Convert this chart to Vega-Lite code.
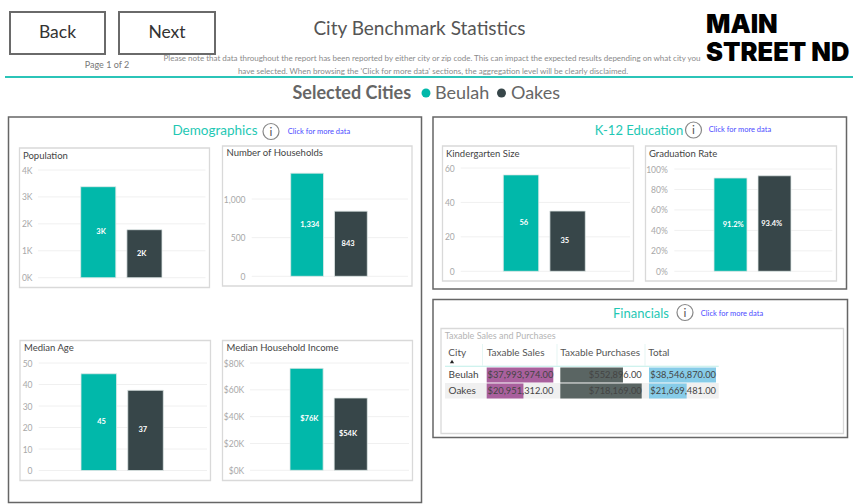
{
"$schema":"https://vega.github.io/schema/vega-lite/v6.json",
"width":853,"height":504,"padding":0,"autosize":{"type":"none"},"background":"white",
"config":{"view":{"stroke":null},"font":"Lato","text":{"font":"Lato"},"axis":{"grid":false,"ticks":false,"domain":false,"labelPadding":0,"labelColor":"#a8a8a8","labelFontSize":8.5,"labelFont":"Lato","title":null,"labelOverlap":false,"labelFlush":false}},
"resolve":{"scale":{"x":"independent","y":"independent"},"axis":{"x":"independent","y":"independent"}},
"layer":[
{"data":{"values":[{"t":"Demographics box"}]},"mark":{"type":"rect","fill":"white","stroke":"#666666","strokeWidth":1.5},"encoding":{"x":{"field":"t","type":"nominal","axis":null,"scale":{"range":[8.5,421.5]}},"y":{"field":"t","type":"nominal","axis":null,"scale":{"range":[117,502.5]}}}},
{"data":{"values":[{"t":"K-12 box"}]},"mark":{"type":"rect","fill":"white","stroke":"#666666","strokeWidth":1.5},"encoding":{"x":{"field":"t","type":"nominal","axis":null,"scale":{"range":[433,846.5]}},"y":{"field":"t","type":"nominal","axis":null,"scale":{"range":[117,289]}}}},
{"data":{"values":[{"t":"Financials box"}]},"mark":{"type":"rect","fill":"white","stroke":"#666666","strokeWidth":1.5},"encoding":{"x":{"field":"t","type":"nominal","axis":null,"scale":{"range":[433,847.5]}},"y":{"field":"t","type":"nominal","axis":null,"scale":{"range":[299.5,437.5]}}}},

{"data":{"values":[{"t":"Back"}]},"encoding":{"x":{"field":"t","type":"nominal","axis":null,"scale":{"range":[10,105]}},"y":{"field":"t","type":"nominal","axis":null,"scale":{"range":[12,54]}}},"layer":[{"mark":{"type":"rect","fill":"white","stroke":"#6a6a6a","strokeWidth":2}},{"mark":{"type":"text","fontSize":17.5,"fill":"#333333"},"encoding":{"text":{"field":"t"}}}]},
{"data":{"values":[{"t":"Next"}]},"encoding":{"x":{"field":"t","type":"nominal","axis":null,"scale":{"range":[119,215]}},"y":{"field":"t","type":"nominal","axis":null,"scale":{"range":[12,54]}}},"layer":[{"mark":{"type":"rect","fill":"white","stroke":"#6a6a6a","strokeWidth":2}},{"mark":{"type":"text","fontSize":17.5,"fill":"#333333"},"encoding":{"text":{"field":"t"}}}]},
{"data":{"values":[{"t":"Page 1 of 2"}]},"mark":{"type":"text","fontSize":9,"fill":"#777777"},"encoding":{"text":{"field":"t"},"x":{"field":"t","type":"nominal","axis":null,"scale":{"range":[106,108]}},"y":{"field":"t","type":"nominal","axis":null,"scale":{"range":[64,66]}}}},
{"data":{"values":[{"t":"City Benchmark Statistics"}]},"mark":{"type":"text","fontSize":19,"fill":"#555555"},"encoding":{"text":{"field":"t"},"x":{"field":"t","type":"nominal","axis":null,"scale":{"range":[418.5,420.5]}},"y":{"field":"t","type":"nominal","axis":null,"scale":{"range":[28,30]}}}},
{"data":{"values":[{"t":"Please note that data throughout the report has been reported by either city or zip code. This can impact the expected results depending on what city you"}]},"mark":{"type":"text","fontSize":8,"fill":"#8a8a8a"},"encoding":{"text":{"field":"t"},"x":{"field":"t","type":"nominal","axis":null,"scale":{"range":[431,433]}},"y":{"field":"t","type":"nominal","axis":null,"scale":{"range":[58,60]}}}},
{"data":{"values":[{"t":"have selected. When browsing the 'Click for more data' sections, the aggregation level will be clearly disclaimed."}]},"mark":{"type":"text","fontSize":8,"fill":"#8a8a8a"},"encoding":{"text":{"field":"t"},"x":{"field":"t","type":"nominal","axis":null,"scale":{"range":[432,434]}},"y":{"field":"t","type":"nominal","axis":null,"scale":{"range":[71,73]}}}},
{"data":{"values":[{"t":"MAIN"}]},"mark":{"type":"text","fontSize":25.5,"fontWeight":900,"font":"Inter","fill":"#000000","align":"left"},"encoding":{"text":{"field":"t"},"x":{"field":"t","type":"nominal","axis":null,"scale":{"range":[705,707]}},"y":{"field":"t","type":"nominal","axis":null,"scale":{"range":[24,26]}}}},
{"data":{"values":[{"t":"STREET ND"}]},"mark":{"type":"text","fontSize":25.5,"fontWeight":900,"font":"Inter","fill":"#000000","align":"left"},"encoding":{"text":{"field":"t"},"x":{"field":"t","type":"nominal","axis":null,"scale":{"range":[705,707]}},"y":{"field":"t","type":"nominal","axis":null,"scale":{"range":[52,54]}}}},
{"data":{"values":[{"t":"rule"}]},"mark":{"type":"rect","fill":"#2bc4b8"},"encoding":{"x":{"field":"t","type":"nominal","axis":null,"scale":{"range":[5,853]}},"y":{"field":"t","type":"nominal","axis":null,"scale":{"range":[76,78]}}}},
{"data":{"values":[{"t":"Selected Cities"}]},"mark":{"type":"text","fontSize":18,"fontWeight":"bold","fill":"#666666","align":"left"},"encoding":{"text":{"field":"t"},"x":{"field":"t","type":"nominal","axis":null,"scale":{"range":[291.5,293.5]}},"y":{"field":"t","type":"nominal","axis":null,"scale":{"range":[92.5,94.5]}}}},
{"data":{"values":[{"city":"Beulah"}]},"mark":{"type":"point","filled":true,"opacity":1,"size":80,"shape":"circle"},"encoding":{"y":{"field":"city","type":"nominal","axis":null,"scale":{"range":[92,94]}},"x":{"field":"city","type":"nominal","axis":null,"scale":{"range":[425,427]}},"color":{"field":"city","type":"nominal","legend":null,"scale":{"domain":["Beulah","Oakes"],"range":["#01b8aa","#374649"]}}}},
{"data":{"values":[{"city":"Oakes"}]},"mark":{"type":"point","filled":true,"opacity":1,"size":80,"shape":"circle"},"encoding":{"y":{"field":"city","type":"nominal","axis":null,"scale":{"range":[92,94]}},"x":{"field":"city","type":"nominal","axis":null,"scale":{"range":[500.5,502.5]}},"color":{"field":"city","type":"nominal","legend":null,"scale":{"domain":["Beulah","Oakes"],"range":["#01b8aa","#374649"]}}}},
{"data":{"values":[{"t":"Beulah"}]},"mark":{"type":"text","fontSize":18,"fill":"#666666","align":"left"},"encoding":{"text":{"field":"t"},"x":{"field":"t","type":"nominal","axis":null,"scale":{"range":[434,436]}},"y":{"field":"t","type":"nominal","axis":null,"scale":{"range":[92.5,94.5]}}}},
{"data":{"values":[{"t":"Oakes"}]},"mark":{"type":"text","fontSize":18,"fill":"#666666","align":"left"},"encoding":{"text":{"field":"t"},"x":{"field":"t","type":"nominal","axis":null,"scale":{"range":[510,512]}},"y":{"field":"t","type":"nominal","axis":null,"scale":{"range":[92.5,94.5]}}}},

{"data":{"values":[{"t":"Demographics"}]},"mark":{"type":"text","fontSize":13.5,"fill":"#1fc8b4"},"encoding":{"text":{"field":"t"},"x":{"field":"t","type":"nominal","axis":null,"scale":{"range":[214,216]}},"y":{"field":"t","type":"nominal","axis":null,"scale":{"range":[130,132]}}}},
{"data":{"values":[{"t":"i"}]},"encoding":{"x":{"field":"t","type":"nominal","axis":null,"scale":{"range":[270,272]}},"y":{"field":"t","type":"nominal","axis":null,"scale":{"range":[130.5,132.5]}}},"layer":[{"mark":{"type":"point","shape":"circle","size":256,"stroke":"#555555","strokeWidth":1.2,"fill":"white","filled":false}},{"mark":{"type":"text","fontSize":12,"fill":"#555555"},"encoding":{"text":{"field":"t"}}}]},
{"data":{"values":[{"t":"Click for more data"}]},"mark":{"type":"text","fontSize":7.5,"fill":"#4a4aff"},"encoding":{"text":{"field":"t"},"x":{"field":"t","type":"nominal","axis":null,"scale":{"range":[318,320]}},"y":{"field":"t","type":"nominal","axis":null,"scale":{"range":[131,133]}}}},
{"data":{"values":[{"t":"K-12 Education"}]},"mark":{"type":"text","fontSize":13,"fill":"#1fc8b4"},"encoding":{"text":{"field":"t"},"x":{"field":"t","type":"nominal","axis":null,"scale":{"range":[638,640]}},"y":{"field":"t","type":"nominal","axis":null,"scale":{"range":[130,132]}}}},
{"data":{"values":[{"t":"i"}]},"encoding":{"x":{"field":"t","type":"nominal","axis":null,"scale":{"range":[692.5,694.5]}},"y":{"field":"t","type":"nominal","axis":null,"scale":{"range":[129,131]}}},"layer":[{"mark":{"type":"point","shape":"circle","size":256,"stroke":"#555555","strokeWidth":1.2,"fill":"white","filled":false}},{"mark":{"type":"text","fontSize":12,"fill":"#555555"},"encoding":{"text":{"field":"t"}}}]},
{"data":{"values":[{"t":"Click for more data"}]},"mark":{"type":"text","fontSize":7.5,"fill":"#4a4aff"},"encoding":{"text":{"field":"t"},"x":{"field":"t","type":"nominal","axis":null,"scale":{"range":[739,741]}},"y":{"field":"t","type":"nominal","axis":null,"scale":{"range":[129,131]}}}},
{"data":{"values":[{"t":"Financials"}]},"mark":{"type":"text","fontSize":13,"fill":"#1fc8b4"},"encoding":{"text":{"field":"t"},"x":{"field":"t","type":"nominal","axis":null,"scale":{"range":[640,642]}},"y":{"field":"t","type":"nominal","axis":null,"scale":{"range":[312.5,314.5]}}}},
{"data":{"values":[{"t":"i"}]},"encoding":{"x":{"field":"t","type":"nominal","axis":null,"scale":{"range":[684,686]}},"y":{"field":"t","type":"nominal","axis":null,"scale":{"range":[311.5,313.5]}}},"layer":[{"mark":{"type":"point","shape":"circle","size":256,"stroke":"#555555","strokeWidth":1.2,"fill":"white","filled":false}},{"mark":{"type":"text","fontSize":12,"fill":"#555555"},"encoding":{"text":{"field":"t"}}}]},
{"data":{"values":[{"t":"Click for more data"}]},"mark":{"type":"text","fontSize":7.5,"fill":"#4a4aff"},"encoding":{"text":{"field":"t"},"x":{"field":"t","type":"nominal","axis":null,"scale":{"range":[731,733]}},"y":{"field":"t","type":"nominal","axis":null,"scale":{"range":[312.5,314.5]}}}},

{"data":{"values":[{"t":"Population"}]},"encoding":{"x":{"field":"t","type":"nominal","axis":null,"scale":{"range":[19.5,209.5]}},"y":{"field":"t","type":"nominal","axis":null,"scale":{"range":[148,287.5]}}},"mark":{"type":"rect","fill":"white","stroke":"#d9d9d9","strokeWidth":1.3}},
{"data":{"values":[{"t":"Population"}]},"mark":{"type":"text","fontSize":9.5,"fill":"#444444","align":"left"},"encoding":{"text":{"field":"t"},"x":{"field":"t","type":"nominal","axis":null,"scale":{"range":[22,24]}},"y":{"field":"t","type":"nominal","axis":null,"scale":{"range":[154.5,156.5]}}}},
{"data":{"values":[{"tick":0},{"tick":1000},{"tick":2000},{"tick":3000},{"tick":4000}]},"mark":{"type":"rule","stroke":"#f0f0f0"},"encoding":{"x":{"datum":0,"type":"quantitative","axis":null,"scale":{"domain":[0,1],"range":[38,205.5]}},"x2":{"datum":1},"y":{"field":"tick","type":"quantitative","axis":null,"scale":{"domain":[0,4000],"range":[277.7,170]}}}},
{"data":{"name":"population"},"mark":{"type":"bar","stroke":"#dfe8e7","strokeWidth":0.8},"encoding":{"x":{"field":"city","type":"nominal","axis":null,"scale":{"domain":["Beulah","Oakes"],"range":[80.7,162],"paddingInner":0.24,"paddingOuter":0}},"y":{"field":"value","type":"quantitative","stack":null,"scale":{"domain":[0,4000],"range":[277.7,170]},"axis":{"orient":"left","zindex":1,"offset":-32,"values":[0,1000,2000,3000,4000],"labelExpr":"datum.value/1000+'K'"}},"color":{"field":"city","type":"nominal","legend":null}}},
{"data":{"name":"population"},"mark":{"type":"text","fontSize":7.5,"fontWeight":"bold","fill":"white"},"encoding":{"x":{"field":"city","type":"nominal","axis":null,"scale":{"domain":["Beulah","Oakes"],"range":[80.7,162],"paddingInner":0.24,"paddingOuter":0}},"y":{"field":"value","type":"quantitative","stack":"zero","bandPosition":0.5,"axis":null,"scale":{"domain":[0,4000],"range":[277.7,170]}},"detail":{"field":"city"},"text":{"field":"label"}}},

{"data":{"values":[{"t":"Number of Households"}]},"encoding":{"x":{"field":"t","type":"nominal","axis":null,"scale":{"range":[222.5,412]}},"y":{"field":"t","type":"nominal","axis":null,"scale":{"range":[146,286]}}},"mark":{"type":"rect","fill":"white","stroke":"#d9d9d9","strokeWidth":1.3}},
{"data":{"values":[{"t":"Number of Households"}]},"mark":{"type":"text","fontSize":9.5,"fill":"#444444","align":"left"},"encoding":{"text":{"field":"t"},"x":{"field":"t","type":"nominal","axis":null,"scale":{"range":[225.5,227.5]}},"y":{"field":"t","type":"nominal","axis":null,"scale":{"range":[152,154]}}}},
{"data":{"values":[{"tick":0},{"tick":500},{"tick":1000}]},"mark":{"type":"rule","stroke":"#f0f0f0"},"encoding":{"x":{"datum":0,"type":"quantitative","axis":null,"scale":{"domain":[0,1],"range":[251.7,408]}},"x2":{"datum":1},"y":{"field":"tick","type":"quantitative","axis":null,"scale":{"domain":[0,1000],"range":[276.3,199]}}}},
{"data":{"name":"households"},"mark":{"type":"bar","stroke":"#dfe8e7","strokeWidth":0.8},"encoding":{"x":{"field":"city","type":"nominal","axis":null,"scale":{"domain":["Beulah","Oakes"],"range":[290.7,367.3],"paddingInner":0.25,"paddingOuter":0}},"y":{"field":"value","type":"quantitative","stack":null,"scale":{"domain":[0,1000],"range":[276.3,199]},"axis":{"orient":"left","zindex":1,"offset":-245,"values":[0,500,1000],"labelExpr":"format(datum.value,',')"}},"color":{"field":"city","type":"nominal","legend":null}}},
{"data":{"name":"households"},"mark":{"type":"text","fontSize":7.5,"fontWeight":"bold","fill":"white"},"encoding":{"x":{"field":"city","type":"nominal","axis":null,"scale":{"domain":["Beulah","Oakes"],"range":[290.7,367.3],"paddingInner":0.25,"paddingOuter":0}},"y":{"field":"value","type":"quantitative","stack":"zero","bandPosition":0.5,"axis":null,"scale":{"domain":[0,1000],"range":[276.3,199]}},"detail":{"field":"city"},"text":{"field":"label"}}},

{"data":{"values":[{"t":"Median Age"}]},"encoding":{"x":{"field":"t","type":"nominal","axis":null,"scale":{"range":[20,210.5]}},"y":{"field":"t","type":"nominal","axis":null,"scale":{"range":[340.5,480.5]}}},"mark":{"type":"rect","fill":"white","stroke":"#d9d9d9","strokeWidth":1.3}},
{"data":{"values":[{"t":"Median Age"}]},"mark":{"type":"text","fontSize":9.5,"fill":"#444444","align":"left"},"encoding":{"text":{"field":"t"},"x":{"field":"t","type":"nominal","axis":null,"scale":{"range":[23,25]}},"y":{"field":"t","type":"nominal","axis":null,"scale":{"range":[347,349]}}}},
{"data":{"values":[{"tick":0},{"tick":10},{"tick":20},{"tick":30},{"tick":40},{"tick":50}]},"mark":{"type":"rule","stroke":"#f0f0f0"},"encoding":{"x":{"datum":0,"type":"quantitative","axis":null,"scale":{"domain":[0,1],"range":[38.7,207]}},"x2":{"datum":1},"y":{"field":"tick","type":"quantitative","axis":null,"scale":{"domain":[0,50],"range":[470.5,363]}}}},
{"data":{"name":"age"},"mark":{"type":"bar","stroke":"#dfe8e7","strokeWidth":0.8},"encoding":{"x":{"field":"city","type":"nominal","axis":null,"scale":{"domain":["Beulah","Oakes"],"range":[81,163.3],"paddingInner":0.24,"paddingOuter":0}},"y":{"field":"value","type":"quantitative","stack":null,"scale":{"domain":[0,50],"range":[470.5,363]},"axis":{"orient":"left","zindex":1,"offset":-32,"values":[0,10,20,30,40,50]}},"color":{"field":"city","type":"nominal","legend":null}}},
{"data":{"name":"age"},"mark":{"type":"text","fontSize":7.5,"fontWeight":"bold","fill":"white"},"encoding":{"x":{"field":"city","type":"nominal","axis":null,"scale":{"domain":["Beulah","Oakes"],"range":[81,163.3],"paddingInner":0.24,"paddingOuter":0}},"y":{"field":"value","type":"quantitative","stack":"zero","bandPosition":0.5,"axis":null,"scale":{"domain":[0,50],"range":[470.5,363]}},"detail":{"field":"city"},"text":{"field":"label"}}},

{"data":{"values":[{"t":"Median Household Income"}]},"encoding":{"x":{"field":"t","type":"nominal","axis":null,"scale":{"range":[222.5,412.5]}},"y":{"field":"t","type":"nominal","axis":null,"scale":{"range":[340.5,480.5]}}},"mark":{"type":"rect","fill":"white","stroke":"#d9d9d9","strokeWidth":1.3}},
{"data":{"values":[{"t":"Median Household Income"}]},"mark":{"type":"text","fontSize":9.5,"fill":"#444444","align":"left"},"encoding":{"text":{"field":"t"},"x":{"field":"t","type":"nominal","axis":null,"scale":{"range":[225.5,227.5]}},"y":{"field":"t","type":"nominal","axis":null,"scale":{"range":[347,349]}}}},
{"data":{"values":[{"tick":0},{"tick":20000},{"tick":40000},{"tick":60000},{"tick":80000}]},"mark":{"type":"rule","stroke":"#f0f0f0"},"encoding":{"x":{"datum":0,"type":"quantitative","axis":null,"scale":{"domain":[0,1],"range":[250,409]}},"x2":{"datum":1},"y":{"field":"tick","type":"quantitative","axis":null,"scale":{"domain":[0,80000],"range":[470.3,363]}}}},
{"data":{"name":"income"},"mark":{"type":"bar","stroke":"#dfe8e7","strokeWidth":0.8},"encoding":{"x":{"field":"city","type":"nominal","axis":null,"scale":{"domain":["Beulah","Oakes"],"range":[290,367.3],"paddingInner":0.25,"paddingOuter":0}},"y":{"field":"value","type":"quantitative","stack":null,"scale":{"domain":[0,80000],"range":[470.3,363]},"axis":{"orient":"left","zindex":1,"offset":-243.7,"values":[0,20000,40000,60000,80000],"labelExpr":"'$'+datum.value/1000+'K'"}},"color":{"field":"city","type":"nominal","legend":null}}},
{"data":{"name":"income"},"mark":{"type":"text","fontSize":7.5,"fontWeight":"bold","fill":"white"},"encoding":{"x":{"field":"city","type":"nominal","axis":null,"scale":{"domain":["Beulah","Oakes"],"range":[290,367.3],"paddingInner":0.25,"paddingOuter":0}},"y":{"field":"value","type":"quantitative","stack":"zero","bandPosition":0.5,"axis":null,"scale":{"domain":[0,80000],"range":[470.3,363]}},"detail":{"field":"city"},"text":{"field":"label"}}},

{"data":{"values":[{"t":"Kindergarten Size"}]},"encoding":{"x":{"field":"t","type":"nominal","axis":null,"scale":{"range":[442.5,633.5]}},"y":{"field":"t","type":"nominal","axis":null,"scale":{"range":[146,281]}}},"mark":{"type":"rect","fill":"white","stroke":"#d9d9d9","strokeWidth":1.3}},
{"data":{"values":[{"t":"Kindergarten Size"}]},"mark":{"type":"text","fontSize":9.5,"fill":"#444444","align":"left"},"encoding":{"text":{"field":"t"},"x":{"field":"t","type":"nominal","axis":null,"scale":{"range":[445,447]}},"y":{"field":"t","type":"nominal","axis":null,"scale":{"range":[152.5,154.5]}}}},
{"data":{"values":[{"tick":0},{"tick":20},{"tick":40},{"tick":60}]},"mark":{"type":"rule","stroke":"#f0f0f0"},"encoding":{"x":{"datum":0,"type":"quantitative","axis":null,"scale":{"domain":[0,1],"range":[460.7,630]}},"x2":{"datum":1},"y":{"field":"tick","type":"quantitative","axis":null,"scale":{"domain":[0,60],"range":[271.3,168]}}}},
{"data":{"name":"kindergarten"},"mark":{"type":"bar","stroke":"#dfe8e7","strokeWidth":0.8},"encoding":{"x":{"field":"city","type":"nominal","axis":null,"scale":{"domain":["Beulah","Oakes"],"range":[503.3,585.3],"paddingInner":0.24,"paddingOuter":0}},"y":{"field":"value","type":"quantitative","stack":null,"scale":{"domain":[0,60],"range":[271.3,168]},"axis":{"orient":"left","zindex":1,"offset":-454.3,"values":[0,20,40,60]}},"color":{"field":"city","type":"nominal","legend":null}}},
{"data":{"name":"kindergarten"},"mark":{"type":"text","fontSize":7.5,"fontWeight":"bold","fill":"white"},"encoding":{"x":{"field":"city","type":"nominal","axis":null,"scale":{"domain":["Beulah","Oakes"],"range":[503.3,585.3],"paddingInner":0.24,"paddingOuter":0}},"y":{"field":"value","type":"quantitative","stack":"zero","bandPosition":0.5,"axis":null,"scale":{"domain":[0,60],"range":[271.3,168]}},"detail":{"field":"city"},"text":{"field":"label"}}},

{"data":{"values":[{"t":"Graduation Rate"}]},"encoding":{"x":{"field":"t","type":"nominal","axis":null,"scale":{"range":[645.5,836.5]}},"y":{"field":"t","type":"nominal","axis":null,"scale":{"range":[146,281]}}},"mark":{"type":"rect","fill":"white","stroke":"#d9d9d9","strokeWidth":1.3}},
{"data":{"values":[{"t":"Graduation Rate"}]},"mark":{"type":"text","fontSize":9.5,"fill":"#444444","align":"left"},"encoding":{"text":{"field":"t"},"x":{"field":"t","type":"nominal","axis":null,"scale":{"range":[648,650]}},"y":{"field":"t","type":"nominal","axis":null,"scale":{"range":[153,155]}}}},
{"data":{"values":[{"tick":0},{"tick":20},{"tick":40},{"tick":60},{"tick":80},{"tick":100}]},"mark":{"type":"rule","stroke":"#f0f0f0"},"encoding":{"x":{"datum":0,"type":"quantitative","axis":null,"scale":{"domain":[0,1],"range":[674.3,832.3]}},"x2":{"datum":1},"y":{"field":"tick","type":"quantitative","axis":null,"scale":{"domain":[0,100],"range":[271.3,169]}}}},
{"data":{"name":"graduation"},"mark":{"type":"bar","stroke":"#dfe8e7","strokeWidth":0.8},"encoding":{"x":{"field":"city","type":"nominal","axis":null,"scale":{"domain":["Beulah","Oakes"],"range":[714,791],"paddingInner":0.25,"paddingOuter":0}},"y":{"field":"value","type":"quantitative","stack":null,"scale":{"domain":[0,100],"range":[271.3,169]},"axis":{"orient":"left","zindex":1,"offset":-667.3,"values":[0,20,40,60,80,100],"labelExpr":"datum.value+'%'"}},"color":{"field":"city","type":"nominal","legend":null}}},
{"data":{"name":"graduation"},"mark":{"type":"text","fontSize":7.5,"fontWeight":"bold","fill":"white"},"encoding":{"x":{"field":"city","type":"nominal","axis":null,"scale":{"domain":["Beulah","Oakes"],"range":[714,791],"paddingInner":0.25,"paddingOuter":0}},"y":{"field":"value","type":"quantitative","stack":"zero","bandPosition":0.5,"axis":null,"scale":{"domain":[0,100],"range":[271.3,169]}},"detail":{"field":"city"},"text":{"field":"label"}}},

{"data":{"values":[{"t":"Taxable Sales and Purchases"}]},"encoding":{"x":{"field":"t","type":"nominal","axis":null,"scale":{"range":[441,843.5]}},"y":{"field":"t","type":"nominal","axis":null,"scale":{"range":[328.5,433.5]}}},"mark":{"type":"rect","fill":"white","stroke":"#d9d9d9","strokeWidth":1.3}},
{"data":{"values":[{"t":"Taxable Sales and Purchases"}]},"mark":{"type":"text","fontSize":9,"fill":"#b5b5b5","align":"left"},"encoding":{"text":{"field":"t"},"x":{"field":"t","type":"nominal","axis":null,"scale":{"range":[443.7,445.7]}},"y":{"field":"t","type":"nominal","axis":null,"scale":{"range":[334.7,336.7]}}}},
{"data":{"values":[{"t":"Oakes row"}]},"mark":{"type":"rect","fill":"#f0f0f0"},"encoding":{"x":{"field":"t","type":"nominal","axis":null,"scale":{"range":[445,718.7]}},"y":{"field":"t","type":"nominal","axis":null,"scale":{"range":[383,398.5]}}}},
{"data":{"values":[{"t":"header rule"}]},"mark":{"type":"rect","fill":"#bfeee8"},"encoding":{"x":{"field":"t","type":"nominal","axis":null,"scale":{"range":[445,718.7]}},"y":{"field":"t","type":"nominal","axis":null,"scale":{"range":[365.8,366.8]}}}},
{"data":{"values":[{"t":"divider 1"}]},"mark":{"type":"rect","fill":"#e6f6f4"},"encoding":{"x":{"field":"t","type":"nominal","axis":null,"scale":{"range":[482,483]}},"y":{"field":"t","type":"nominal","axis":null,"scale":{"range":[344,366]}}}},
{"data":{"values":[{"t":"divider 2"}]},"mark":{"type":"rect","fill":"#e6f6f4"},"encoding":{"x":{"field":"t","type":"nominal","axis":null,"scale":{"range":[556.5,557.5]}},"y":{"field":"t","type":"nominal","axis":null,"scale":{"range":[344,366]}}}},
{"data":{"values":[{"t":"divider 3"}]},"mark":{"type":"rect","fill":"#e6f6f4"},"encoding":{"x":{"field":"t","type":"nominal","axis":null,"scale":{"range":[644.5,645.5]}},"y":{"field":"t","type":"nominal","axis":null,"scale":{"range":[344,366]}}}},
{"data":{"values":[{"t":"City"}]},"mark":{"type":"text","fontSize":10,"fill":"#555555","align":"left"},"encoding":{"text":{"field":"t"},"x":{"field":"t","type":"nominal","axis":null,"scale":{"range":[447.3,449.3]}},"y":{"field":"t","type":"nominal","axis":null,"scale":{"range":[351.7,353.7]}}}},
{"data":{"values":[{"t":"Taxable Sales"}]},"mark":{"type":"text","fontSize":10,"fill":"#555555","align":"left"},"encoding":{"text":{"field":"t"},"x":{"field":"t","type":"nominal","axis":null,"scale":{"range":[485.7,487.7]}},"y":{"field":"t","type":"nominal","axis":null,"scale":{"range":[351.7,353.7]}}}},
{"data":{"values":[{"t":"Taxable Purchases"}]},"mark":{"type":"text","fontSize":10,"fill":"#555555","align":"left"},"encoding":{"text":{"field":"t"},"x":{"field":"t","type":"nominal","axis":null,"scale":{"range":[559.3,561.3]}},"y":{"field":"t","type":"nominal","axis":null,"scale":{"range":[351.7,353.7]}}}},
{"data":{"values":[{"t":"Total"}]},"mark":{"type":"text","fontSize":10,"fill":"#555555","align":"left"},"encoding":{"text":{"field":"t"},"x":{"field":"t","type":"nominal","axis":null,"scale":{"range":[647.3,649.3]}},"y":{"field":"t","type":"nominal","axis":null,"scale":{"range":[351.7,353.7]}}}},
{"data":{"values":[{"t":"sort"}]},"mark":{"type":"point","shape":"triangle-up","filled":true,"opacity":1,"fill":"#222222","size":18},"encoding":{"x":{"field":"t","type":"nominal","axis":null,"scale":{"range":[451,453]}},"y":{"field":"t","type":"nominal","axis":null,"scale":{"range":[360.5,362.5]}}}},
{"data":{"name":"table"},"mark":{"type":"text","fontSize":10,"fill":"#444444","align":"left"},"encoding":{"text":{"field":"city"},"x":{"datum":"City","type":"nominal","axis":null,"scale":{"range":[447.5,449.5]}},"y":{"field":"city","type":"nominal","axis":null,"scale":{"domain":["Beulah","Oakes"],"range":[367.5,398.5],"paddingInner":0.05,"paddingOuter":0}}}},
{"data":{"name":"table"},"encoding":{"y":{"field":"city","type":"nominal","axis":null,"scale":{"domain":["Beulah","Oakes"],"range":[367.5,398.5],"paddingInner":0.05,"paddingOuter":0}}},"layer":[{"mark":{"type":"bar","fill":"#a9609d"},"encoding":{"x":{"field":"sales","type":"quantitative","axis":null,"scale":{"domain":[0,37993974],"range":[486.7,553.3],"nice":false}}}},{"mark":{"type":"text","fontSize":9.3,"fill":"#444444","align":"right"},"encoding":{"x":{"datum":37993974,"type":"quantitative"},"text":{"field":"sales","type":"quantitative","format":"$,.2f"}}}]},
{"data":{"name":"table"},"encoding":{"y":{"field":"city","type":"nominal","axis":null,"scale":{"domain":["Beulah","Oakes"],"range":[367.5,398.5],"paddingInner":0.05,"paddingOuter":0}}},"layer":[{"mark":{"type":"bar","fill":"#5a6563"},"encoding":{"x":{"field":"purchases","type":"quantitative","axis":null,"scale":{"domain":[0,718169],"range":[560.3,641.7],"nice":false}}}},{"mark":{"type":"text","fontSize":9.3,"fill":"#444444","align":"right"},"encoding":{"x":{"datum":718169,"type":"quantitative"},"text":{"field":"purchases","type":"quantitative","format":"$,.2f"}}}]},
{"data":{"name":"table"},"encoding":{"y":{"field":"city","type":"nominal","axis":null,"scale":{"domain":["Beulah","Oakes"],"range":[367.5,398.5],"paddingInner":0.05,"paddingOuter":0}}},"layer":[{"mark":{"type":"bar","fill":"#87cce8"},"encoding":{"x":{"field":"total","type":"quantitative","axis":null,"scale":{"domain":[0,38546870],"range":[649,716],"nice":false}}}},{"mark":{"type":"text","fontSize":9.3,"fill":"#444444","align":"right"},"encoding":{"x":{"datum":38546870,"type":"quantitative"},"text":{"field":"total","type":"quantitative","format":"$,.2f"}}}]}
],
"datasets":{
"population":[{"city":"Beulah","value":3380,"label":"3K"},{"city":"Oakes","value":1783,"label":"2K"}],
"households":[{"city":"Beulah","value":1334,"label":"1,334"},{"city":"Oakes","value":843,"label":"843"}],
"age":[{"city":"Beulah","value":45,"label":"45"},{"city":"Oakes","value":37.3,"label":"37"}],
"income":[{"city":"Beulah","value":76000,"label":"$76K"},{"city":"Oakes","value":53900,"label":"$54K"}],
"kindergarten":[{"city":"Beulah","value":56,"label":"56"},{"city":"Oakes","value":35,"label":"35"}],
"graduation":[{"city":"Beulah","value":91.2,"label":"91.2%"},{"city":"Oakes","value":93.4,"label":"93.4%"}],
"table":[{"city":"Beulah","sales":37993974,"purchases":552896,"total":38546870},{"city":"Oakes","sales":20951312,"purchases":718169,"total":21669481}]}
}
